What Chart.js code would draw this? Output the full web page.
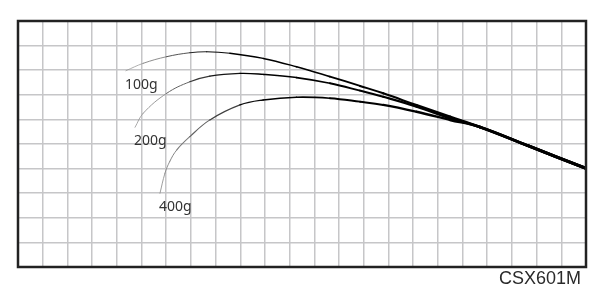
<!DOCTYPE html>
<html>
<head>
<meta charset="utf-8">
<script src="https://cdn.jsdelivr.net/npm/chart.js@4/dist/chart.umd.min.js"></script>
<style>
  body { margin: 0; background: #fff; }
  #wrap { width: 600px; height: 307px; }
</style>
</head>
<body>
<div id="wrap"><canvas id="bendChart"></canvas></div>
<script>
// bend curves, grid units (23 x 10 squares)
const seriesLabels = ['100g', '200g', '400g']
const x100 = [4.37, 5.07, 6.02, 6.96, 7.64, 8.58, 9.93, 11.28, 12.63, 13.85, 14.79, 16.14, 17.49, 18.70, 20.65, 23.0]
const y100 = [7.98, 8.28, 8.55, 8.71, 8.75, 8.69, 8.48, 8.14, 7.74, 7.36, 7.06, 6.58, 6.11, 5.69, 4.93, 4.01]
const x200 = [4.74, 5.07, 6.02, 6.96, 7.77, 8.99, 9.93, 11.28, 12.63, 13.85, 14.79, 16.14, 17.49, 18.70, 20.65, 23.0]
const y200 = [5.68, 6.25, 7.06, 7.53, 7.76, 7.87, 7.83, 7.70, 7.47, 7.17, 6.92, 6.52, 6.04, 5.69, 4.93, 4.01]
const x400 = [5.75, 5.95, 6.15, 6.43, 6.96, 7.77, 8.99, 9.93, 11.28, 12.63, 13.85, 14.79, 16.14, 17.49, 18.70, 20.65, 23.0]
const y400 = [3.00, 3.81, 4.30, 4.76, 5.30, 5.98, 6.59, 6.79, 6.90, 6.86, 6.72, 6.59, 6.31, 5.98, 5.69, 4.93, 4.01]
const modelName = 'CSX601M'

function toPoints(xs, ys) {
    return xs.map(function(x, i) { return {x: x, y: ys[i]} })
}

// thin grey at the tip, thick black towards the butt
function segWidth(ctx) {
    let x = ctx.p0.parsed.x
    return 0.7 + 2.6 * Math.max(0, (x - 4) / 19)
}
function segColor(ctx) {
    let x0 = ctx.chart.data.datasets[ctx.datasetIndex].data[0].x
    let t = Math.min(1, Math.max(0, (ctx.p0.parsed.x - x0) / 3.5))
    let g = Math.round(150 * (1 - t))
    return 'rgb(' + g + ',' + g + ',' + g + ')'
}

let allData = []
let xsList = [x100, x200, x400]
let ysList = [y100, y200, y400]
for (let i = 0; i < seriesLabels.length; i++) {
    allData.push({
        label: seriesLabels[i],
        data: toPoints(xsList[i], ysList[i]),
        borderColor: '#000',
        borderWidth: 2,
        borderCapStyle: 'round',
        borderJoinStyle: 'round',
        pointRadius: 0,
        tension: 0.4,
        fill: false,
        segment: { borderWidth: segWidth, borderColor: segColor }
    })
}

const frameAndText = {
    id: 'frameAndText',
    afterDatasetsDraw(chart) {
        const c = chart.ctx
        const a = chart.chartArea
        c.save()
        // load labels under the tip of each curve
        c.font = '14px "Noto Sans"'
        c.fillStyle = '#333'
        c.textAlign = 'left'
        c.textBaseline = 'middle'
        chart.data.datasets.forEach(function(ds, i) {
            let p = chart.getDatasetMeta(i).data[0]
            c.fillText(ds.label, p.x - 1, p.y + 14)
        })
        // outer frame
        c.strokeStyle = '#222'
        c.lineWidth = 2.5
        c.strokeRect(a.left, a.top, a.right - a.left, a.bottom - a.top)
        // model name
        c.font = '18px "Liberation Sans"'
        c.fillStyle = '#2a2a2a'
        c.textAlign = 'right'
        c.fillText(modelName, a.right - 5, a.bottom + 12)
        c.restore()
    }
}

new Chart(document.getElementById('bendChart'), {
    type: 'line',
    data: { datasets: allData },
    options: {
        responsive: true,
        maintainAspectRatio: false,
        animation: false,
        layout: { padding: { left: 18, top: 21, right: 14, bottom: 40 } },
        plugins: { legend: { display: false }, tooltip: { enabled: false } },
        scales: {
            x: {
                type: 'linear', min: 0, max: 23,
                ticks: { display: false, stepSize: 1 },
                grid: { color: '#c6c6c8', lineWidth: 1.5, drawTicks: false },
                border: { display: false }
            },
            y: {
                type: 'linear', min: 0, max: 10,
                ticks: { display: false, stepSize: 1 },
                grid: { color: '#c6c6c8', lineWidth: 1.5, drawTicks: false },
                border: { display: false }
            }
        }
    },
    plugins: [frameAndText]
})
</script>
</body>
</html>
